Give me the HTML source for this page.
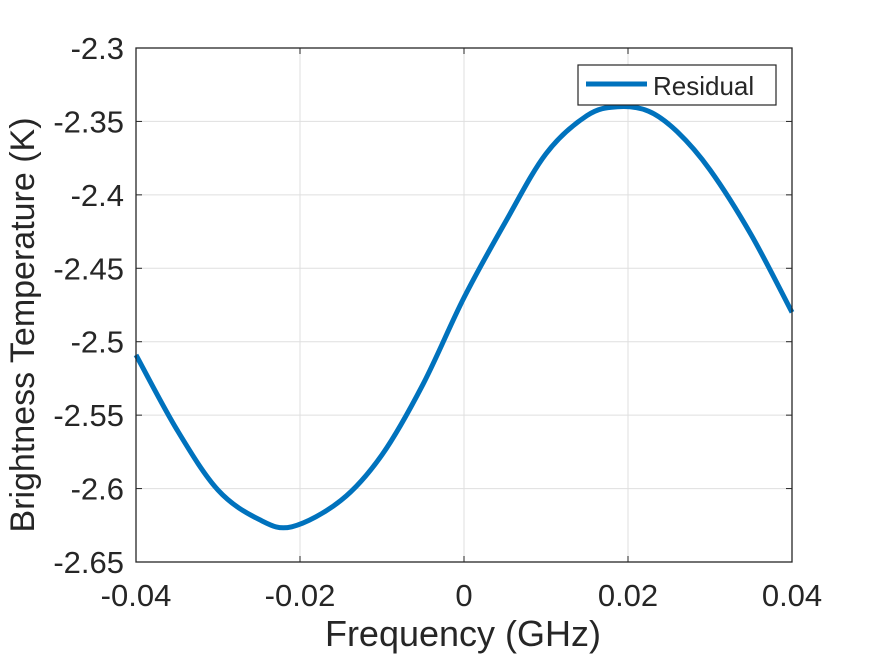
<!DOCTYPE html>
<html><head><meta charset="utf-8"><style>
body{margin:0;background:#fff;}
svg text{font-family:"Liberation Sans",Arial,sans-serif;fill:#262626;}
</style></head><body>
<svg id="chart" width="875" height="656" xmlns="http://www.w3.org/2000/svg">
<rect width="875" height="656" fill="#fff"/>
<g id="grid"></g>
<path id="line" fill="none" stroke="#0072BD" stroke-width="5" stroke-linejoin="round"/>
<g id="axes"></g>
<g>
<rect x="578" y="65" width="198" height="40" fill="#fff" stroke="#262626" stroke-width="1.2"/>
<line x1="586" y1="84" x2="647" y2="84" stroke="#0072BD" stroke-width="5"/>
<text x="653" y="95" font-size="26">Residual</text>
</g>
<text x="463" y="646" font-size="36" text-anchor="middle">Frequency (GHz)</text>
<text transform="translate(34,325) rotate(-90)" font-size="34" text-anchor="middle">Brightness Temperature (K)</text>
</svg>
<script>
const xs=[-0.04,-0.035,-0.03,-0.025,-0.021,-0.015,-0.01,-0.005,0,0.005,0.01,0.015,0.0187,0.0225,0.026,0.03,0.035,0.04];
const ys=[-2.509,-2.560,-2.601,-2.621,-2.626,-2.608,-2.577,-2.529,-2.470,-2.419,-2.372,-2.346,-2.340,-2.343,-2.357,-2.383,-2.427,-2.480];
const xTicks=[-0.04,-0.02,0,0.02,0.04];
const xTickLabels=["-0.04","-0.02","0","0.02","0.04"];
const yTicks=[-2.65,-2.6,-2.55,-2.5,-2.45,-2.4,-2.35,-2.3];
const yTickLabels=["-2.65","-2.6","-2.55","-2.5","-2.45","-2.4","-2.35","-2.3"];
const L=136,R=792,T=48,B=562;
const sx=v=>L+(v+0.04)/0.08*(R-L);
const sy=v=>T+(-2.3-v)/0.35*(B-T);
const NS="http://www.w3.org/2000/svg";
const grid=document.getElementById('grid'),axes=document.getElementById('axes');
function mk(tag,attrs,parent){const e=document.createElementNS(NS,tag);for(const k in attrs)e.setAttribute(k,attrs[k]);parent.appendChild(e);return e;}
xTicks.forEach((t,i)=>{const x=sx(t);
 const g=mk('line',{x1:x,x2:x,y1:T,y2:B,stroke:'#dfdfdf','stroke-width':1},grid);
 
 
 mk('line',{x1:x,x2:x,y1:B,y2:B-6,stroke:'#262626'},axes);
 mk('line',{x1:x,x2:x,y1:T,y2:T+6,stroke:'#262626'},axes);
 const tx=mk('text',{x:x,y:B+44,'font-size':31,'text-anchor':'middle'},axes);tx.textContent=xTickLabels[i];
 
 
});
yTicks.forEach((t,i)=>{const y=sy(t);
 const g=mk('line',{x1:L,x2:R,y1:y,y2:y,stroke:'#dfdfdf','stroke-width':1},grid);
 
 
 mk('line',{x1:L,x2:L+6,y1:y,y2:y,stroke:'#262626'},axes);
 mk('line',{x1:R,x2:R-6,y1:y,y2:y,stroke:'#262626'},axes);
 const tx=mk('text',{x:L-12,y:y+11,'font-size':31,'text-anchor':'end'},axes);tx.textContent=yTickLabels[i];
 
 
});
const box=mk('rect',{x:L,y:T,width:R-L,height:B-T,fill:'none',stroke:'#262626','stroke-width':1.3},axes);


const P=xs.map((x,i)=>[sx(x),sy(ys[i])]);
let d='M'+P[0][0]+','+P[0][1];
for(let i=0;i<P.length-1;i++){const p0=P[i-1]||P[i],p1=P[i],p2=P[i+1],p3=P[i+2]||P[i+1];
 const c1=[p1[0]+(p2[0]-p0[0])/6,p1[1]+(p2[1]-p0[1])/6],c2=[p2[0]-(p3[0]-p1[0])/6,p2[1]-(p3[1]-p1[1])/6];
 d+=` C${c1[0]},${c1[1]} ${c2[0]},${c2[1]} ${p2[0]},${p2[1]}`;}
document.getElementById('line').setAttribute('d',d);
</script>
</body></html>
